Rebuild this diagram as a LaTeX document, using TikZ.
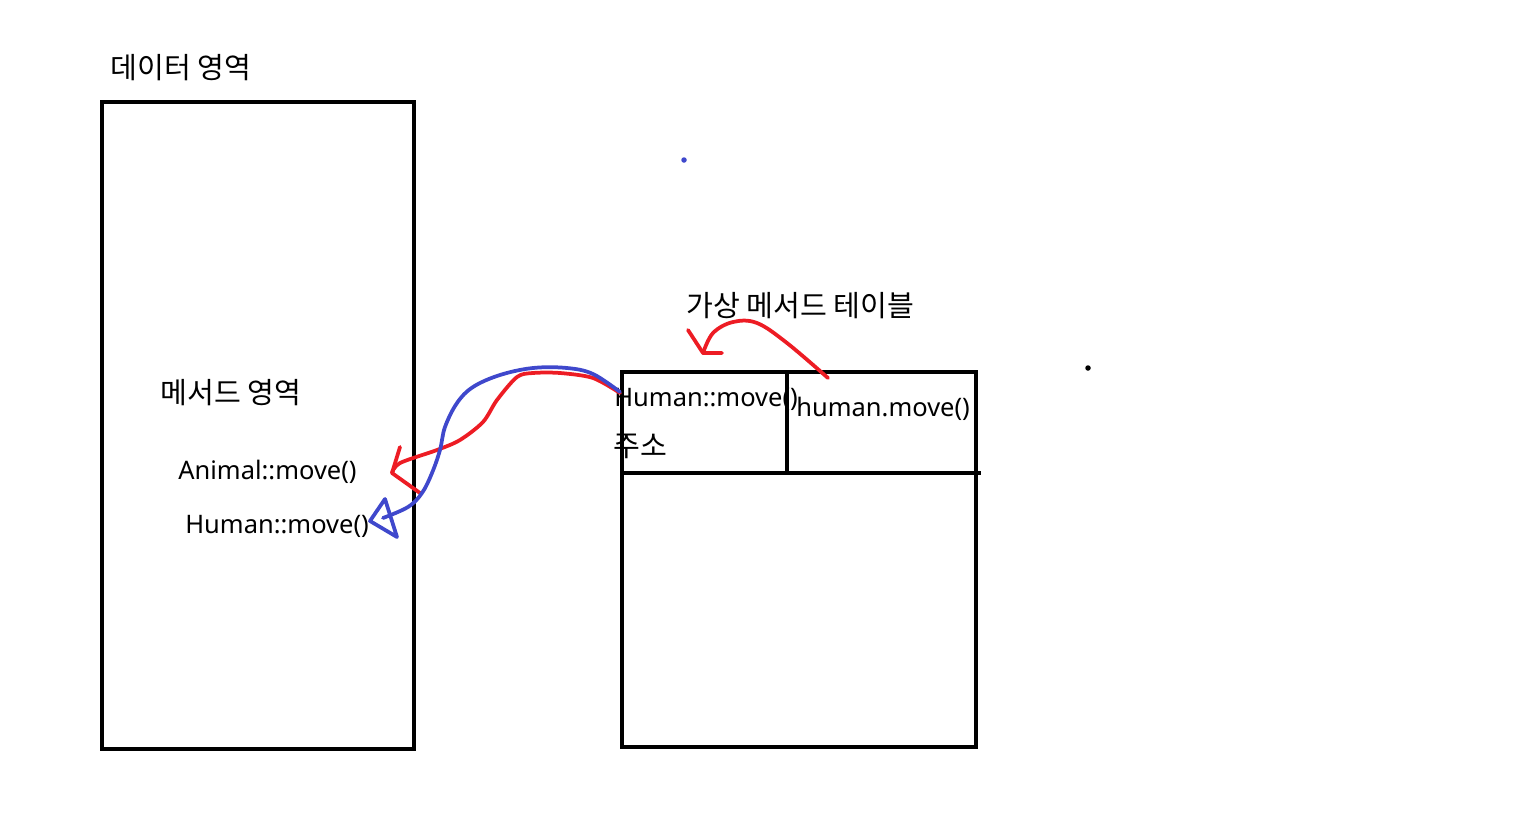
\documentclass[tikz,border=0pt]{standalone}
\usepackage{fontspec}
\setmainfont{Noto Sans}
\newfontfamily\kr{Noto Sans CJK KR}
\usepackage{tikz}

\begin{document}
\begin{tikzpicture}[x=0.02cm,y=-0.02cm,
			box/.style={line width=0.095cm,line join=miter},
			label/.style={anchor=west,inner sep=0pt,font=\fontsize{14.5}{17}\selectfont},
			klabel/.style={anchor=west,inner sep=0pt,font=\kr\fontsize{16.6}{19}\selectfont},
			redpen/.style={draw={rgb,255:red,237;green,28;blue,36},line width=0.075cm,line cap=round,line join=round},
			bluepen/.style={draw={rgb,255:red,63;green,72;blue,204},line width=0.075cm,line cap=round,line join=round},
			dot/.style={circle,inner sep=0pt,minimum size=0.11cm},
			]
			\useasboundingbox (0,0) rectangle (1536,825);
			
			% 데이터 영역 (왼쪽 상자)
			\coordinate (D1) at (102,102);
			\coordinate (D2) at (414,749);
			\draw[box] (D1) rectangle (D2);
			\node[klabel] (data) at (110,68) {데이터 영역};
			\node[klabel] (method) at (160,393) {메서드 영역};
			\node[label] (animal) at (178,472) {Animal::move()};
			\node[label] (human) at (185,526) {Human::move()};
			
			% 가상 메서드 테이블 (오른쪽 상자)
			\coordinate (T1) at (622,372);
			\coordinate (T2) at (976,747);
			\draw[box] (T1) rectangle (T2);
			\draw[box] (622,473) -- (981,473);
			\draw[box] (787,372) -- (787,473);
			\node[klabel] (vtable) at (686,306) {가상 메서드 테이블};
			\node[label] (entry) at (614,399) {Human::move()};
			\node[klabel] (addr) at (613,446) {주소};
			\node[label] (call) at (796,409) {human.move()};
			
			% 빨간 화살표: human.move() -> 테이블
			\coordinate (r1s) at (828,378);
			\coordinate (r1e) at (703,353);
			\draw[redpen] plot[smooth,tension=0.6] coordinates {(r1s) (787,343) (757,323) (733,322) (713,333) (r1e)};
			\draw[redpen] (688,330) -- (r1e) -- (722,353);
			
			% 빨간 화살표: 테이블 -> Animal::move()
			\coordinate (r2s) at (620,393);
			\coordinate (r2e) at (392,473);
			\draw[redpen] plot[smooth,tension=0.5] coordinates {(r2s) (593,378) (560,373) (533,373) (517,377) (497,400) (483,422) (460,440) (437,450) (400,463) (r2e)};
			\draw[redpen] (400,447) -- (r2e) -- (420,493);
			
			% 파란 화살표: 테이블 -> Human::move()
			\coordinate (b1s) at (620,392);
			\coordinate (b1e) at (383,518);
			\draw[bluepen] plot[smooth,tension=0.6] coordinates {(b1s) (593,374) (567,368) (533,368) (500,375) (473,387) (457,403) (445,427) (440,450) (432,473) (422,493) (408,507) (b1e)};
			\draw[bluepen] (385,499) -- (370,521) -- (397,537) -- cycle;
			
			% 점
			\node[dot,fill={rgb,255:red,63;green,72;blue,204}] (bdot) at (684,160) {};
			\node[dot,fill=black] (kdot) at (1088,368) {};
		\end{tikzpicture}
\end{document}
